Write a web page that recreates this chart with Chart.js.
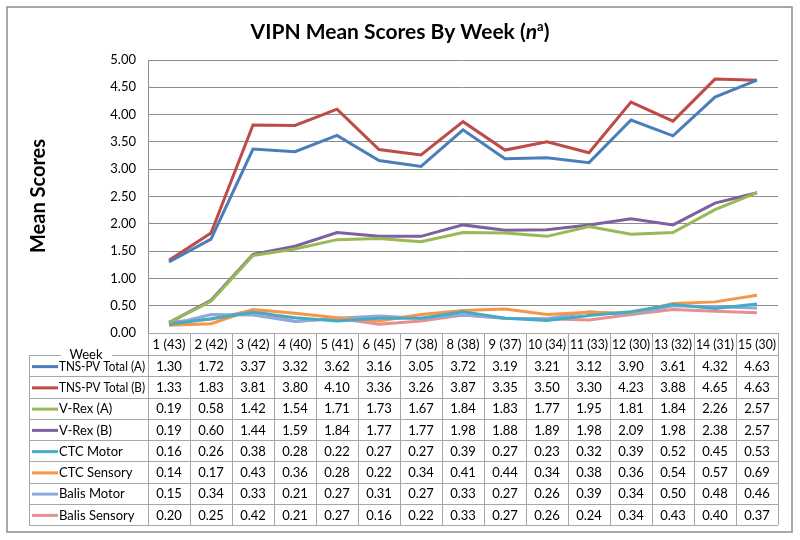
<!DOCTYPE html>
<html>
<head>
<meta charset="utf-8">
<title>VIPN Mean Scores By Week</title>
<script src="https://cdn.jsdelivr.net/npm/chart.js@4.4.0/dist/chart.umd.min.js"></script>
<style>
    html, body { margin: 0; padding: 0; background: #fff; }
    #wrap { width: 800px; height: 540px; }
</style>
</head>
<body>
<div id="wrap"><canvas id="myChart" width="800" height="540"></canvas></div>
<script>
const weeks = ["1 (43)", "2 (42)", "3 (42)", "4 (40)", "5 (41)", "6 (45)", "7 (38)", "8 (38)",
    "9 (37)", "10 (34)", "11 (33)", "12 (30)", "13 (32)", "14 (31)", "15 (30)"];
const seriesNames = ["TNS-PV Total (A)", "TNS-PV Total (B)", "V-Rex (A)", "V-Rex (B)",
    "CTC Motor", "CTC Sensory", "Balis Motor", "Balis Sensory"];
const tnsA = [1.30, 1.72, 3.37, 3.32, 3.62, 3.16, 3.05, 3.72, 3.19, 3.21, 3.12, 3.90, 3.61, 4.32, 4.63];
const tnsB = [1.33, 1.83, 3.81, 3.80, 4.10, 3.36, 3.26, 3.87, 3.35, 3.50, 3.30, 4.23, 3.88, 4.65, 4.63];
const vrexA = [0.19, 0.58, 1.42, 1.54, 1.71, 1.73, 1.67, 1.84, 1.83, 1.77, 1.95, 1.81, 1.84, 2.26, 2.57];
const vrexB = [0.19, 0.60, 1.44, 1.59, 1.84, 1.77, 1.77, 1.98, 1.88, 1.89, 1.98, 2.09, 1.98, 2.38, 2.57];
const ctcMotor = [0.16, 0.26, 0.38, 0.28, 0.22, 0.27, 0.27, 0.39, 0.27, 0.23, 0.32, 0.39, 0.52, 0.45, 0.53];
const ctcSensory = [0.14, 0.17, 0.43, 0.36, 0.28, 0.22, 0.34, 0.41, 0.44, 0.34, 0.38, 0.36, 0.54, 0.57, 0.69];
const balisMotor = [0.15, 0.34, 0.33, 0.21, 0.27, 0.31, 0.27, 0.33, 0.27, 0.26, 0.39, 0.34, 0.50, 0.48, 0.46];
const balisSensory = [0.20, 0.25, 0.42, 0.21, 0.27, 0.16, 0.22, 0.33, 0.27, 0.26, 0.24, 0.34, 0.43, 0.40, 0.37];

const seriesValues = [tnsA, tnsB, vrexA, vrexB, ctcMotor, ctcSensory, balisMotor, balisSensory];
const seriesColors = ["#4a7ebb", "#be4b48", "#98b954", "#7d60a0", "#46aac5", "#f79646", "#8eaadb", "#e6908f"];

const FONT = "Lato, 'Open Sans', sans-serif";

// Title, outer frame and data table drawn under the plot
const tablePlugin = {
    id: "dataTable",
    afterDraw(chart) {
        const c = chart.ctx;
        const area = chart.chartArea;
        const xs = chart.scales.x;
        const colW = (area.right - area.left) / weeks.length;
        const headTop = area.bottom;
        const headH = 22;
        const rowH = 21.25;
        const legLeft = 29;
        const tableBottom = headTop + headH + rowH * seriesNames.length;

        c.save();
        // outer frame
        c.strokeStyle = "#8c8c8c";
        c.lineWidth = 1.5;
        c.strokeRect(7, 7, 785, 525);

        // title
        c.fillStyle = "#000";
        c.textBaseline = "alphabetic";
        c.textAlign = "left";
        const parts = [
            { t: "VIPN Mean Scores By Week (", f: "bold 21px " + FONT, dy: 0 },
            { t: "n", f: "italic bold 21px " + FONT, dy: 0 },
            { t: "a", f: "bold 13px " + FONT, dy: -8 },
            { t: ")", f: "bold 21px " + FONT, dy: 0 },
        ];
        let total = 0;
        parts.forEach((p) => { c.font = p.f; p.w = c.measureText(p.t).width; total += p.w; });
        let tx = 400 - total / 2;
        parts.forEach((p) => { c.font = p.f; c.fillText(p.t, tx, 39 + p.dy); tx += p.w; });

        // axis title
        c.save();
        c.translate(39, 196);
        c.rotate(-Math.PI / 2);
        c.font = "bold 20px " + FONT;
        c.textAlign = "center";
        c.textBaseline = "middle";
        c.fillText("Mean Scores", 0, 0);
        c.restore();

        // table grid
        c.strokeStyle = "#a6a6a6";
        c.lineWidth = 1;
        c.beginPath();
        c.moveTo(area.left, headTop + 0.5); c.lineTo(area.right, headTop + 0.5);
        for (let r = 0; r <= seriesNames.length; r++) {
            const y = Math.round(headTop + headH + r * rowH) + 0.5;
            c.moveTo(legLeft, y); c.lineTo(area.right, y);
        }
        for (let i = 0; i <= weeks.length; i++) {
            const x = Math.round(area.left + i * colW) + 0.5;
            c.moveTo(x, headTop); c.lineTo(x, tableBottom);
        }
        c.moveTo(legLeft + 0.5, headTop + headH); c.lineTo(legLeft + 0.5, tableBottom);
        c.stroke();

        // header labels
        c.font = "13px " + FONT;
        c.fillStyle = "#000";
        c.textAlign = "center";
        c.textBaseline = "middle";
        weeks.forEach((w, i) => {
            c.fillText(w, xs.getPixelForValue(i), headTop + headH / 2 + 1, colW - 4);
        });

        // rows
        seriesNames.forEach((name, r) => {
            const yMid = headTop + headH + r * rowH + rowH / 2 + 1;
            c.strokeStyle = seriesColors[r];
            c.lineWidth = 3;
            c.beginPath();
            c.moveTo(32, yMid); c.lineTo(58, yMid);
            c.stroke();
            c.textAlign = "left";
            c.fillText(name, 59, yMid, area.left - 62);
            c.textAlign = "center";
            seriesValues[r].forEach((v, i) => {
                c.fillText(v.toFixed(2), xs.getPixelForValue(i), yMid);
            });
        });

        // "Week" label over the legend column
        c.fillStyle = "#fff";
        c.fillRect(61, headTop + 14, 51, 12);
        c.fillStyle = "#000";
        c.textAlign = "center";
        c.fillText("Week", 86, headTop + headH);
        c.restore();
    },
};

const ctx = document.getElementById("myChart").getContext("2d");
let myChart = new Chart(ctx, {
    type: "line",
    data: {
        labels: weeks,
        datasets: seriesNames.map((name, i) => ({
            label: name,
            data: seriesValues[i],
            borderColor: seriesColors[i],
            backgroundColor: seriesColors[i],
            borderWidth: 3,
            pointRadius: 0,
            tension: 0,
            fill: false,
        })),
    },
    options: {
        responsive: false,
        animation: false,
        layout: { padding: { left: 0, top: 60, right: 22, bottom: 207 } },
        plugins: {
            legend: { display: false },
            title: { display: false },
            tooltip: { enabled: false },
        },
        scales: {
            x: {
                display: false,
                offset: true,
            },
            y: {
                min: 0,
                max: 5,
                afterFit: (scale) => { scale.width = 148; },
                ticks: {
                    stepSize: 0.5,
                    padding: 12,
                    color: "#000",
                    font: { family: FONT, size: 13 },
                    callback: (val) => Number(val).toFixed(2),
                },
                grid: { color: "#8c8c8c", drawTicks: false },
                border: { display: true, color: "#8c8c8c" },
            },
        },
    },
    plugins: [tablePlugin],
});
</script>
</body>
</html>
